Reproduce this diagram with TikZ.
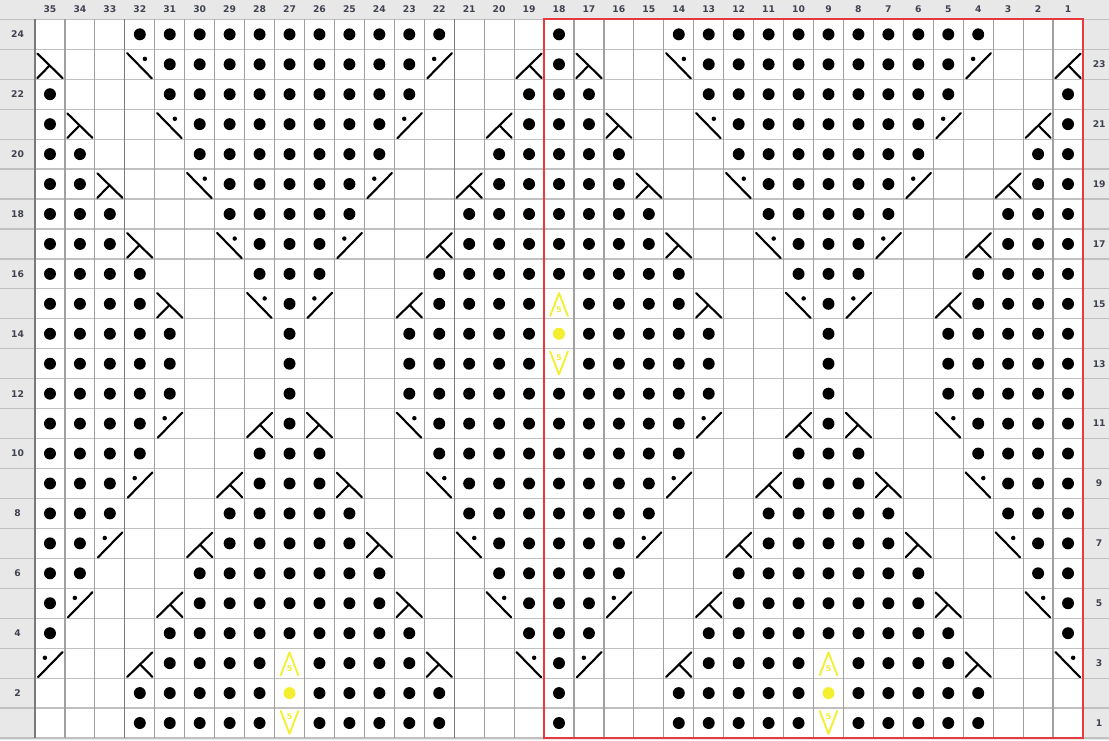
\documentclass[tikz,border=0pt]{standalone}
\usepackage{fontspec}
\setsansfont{DejaVu Sans}

% Stitch symbols: #1 = left edge of the cell, #2 = bottom edge of the cell
\newcommand{\stitche}[2]{}
\newcommand{\stitchp}[2]{\fill[black] (#1+0.5,#2+0.5) circle (0.2);}
\newcommand{\stitchl}[2]{%
    \draw[symLine] (#1+0.08,#2+0.86) -- (#1+0.92,#2+0.04);
    \draw[symLine] (#1+0.48,#2+0.45) -- (#1+0.08,#2+0.04);}
\newcommand{\stitchm}[2]{%
    \draw[symLine] (#1+0.08,#2+0.04) -- (#1+0.92,#2+0.86);
    \draw[symLine] (#1+0.52,#2+0.45) -- (#1+0.92,#2+0.04);}
\newcommand{\stitchr}[2]{%
    \draw[symLine] (#1+0.08,#2+0.87) -- (#1+0.9,#2+0.03);
    \fill[black] (#1+0.67,#2+0.68) circle (0.075);}
\newcommand{\stitchs}[2]{%
    \draw[symLine] (#1+0.1,#2+0.03) -- (#1+0.92,#2+0.87);
    \fill[black] (#1+0.33,#2+0.68) circle (0.075);}
\newcommand{\stitchy}[2]{\fill[stitchYellow] (#1+0.5,#2+0.5) circle (0.2);}
\newcommand{\stitchu}[2]{%
    \draw[yellowLine] (#1+0.2,#2+0.08) -- (#1+0.5,#2+0.86) -- (#1+0.8,#2+0.08);
    \node[fiveLabel] (up#1-#2) at (#1+0.5,#2+0.3) {5};}
\newcommand{\stitchd}[2]{%
    \draw[yellowLine] (#1+0.2,#2+0.92) -- (#1+0.5,#2+0.14) -- (#1+0.8,#2+0.92);
    \node[fiveLabel] (down#1-#2) at (#1+0.5,#2+0.7) {5};}

\begin{document}
\begin{tikzpicture}[x=0.8cm, y=0.8cm,
    symLine/.style={line width=1.6pt, line cap=round},
    yellowLine/.style={stitchYellow, line width=1.4pt, line join=round},
    fiveLabel/.style={text=stitchYellow, inner sep=0pt, font=\sffamily\bfseries\fontsize{6}{6}\selectfont},
    numLabel/.style={labelText, inner sep=0pt, font=\sffamily\bfseries\fontsize{7}{8}\selectfont}]

    % Define chart size
    \def\nCols{35}
    \def\nRows{24}

    \definecolor{labelGrey}{HTML}{E8E8E8}
    \definecolor{labelText}{HTML}{3F4350}
    \definecolor{vLineGrey}{HTML}{A0A0A0}
    \definecolor{hLineGrey}{HTML}{C0C0C0}
    \definecolor{darkLineGrey}{HTML}{7A7A7A}
    \definecolor{repeatRed}{HTML}{E8393F}
    \definecolor{stitchYellow}{HTML}{F3EE2E}

    % Background and margins
    \fill[labelGrey] (-1.169,-0.067) rectangle (35.868,24.647);
    \useasboundingbox (-1.169,-0.067) rectangle (35.868,24.647);
    \fill[white] (0,0) rectangle (\nCols,\nRows);

    % Draw grid
    \foreach \y in {0,...,\nRows}
        \draw[hLineGrey, line width=0.9pt] (-1.169,\y) -- (35.868,\y);
    \foreach \x in {0,...,\nCols}
        \draw[vLineGrey, line width=0.9pt] (\x,0) -- (\x,\nRows);
    \foreach \x in {0,3,14}
        \draw[darkLineGrey, line width=1pt] (\x,0) -- (\x,\nRows);

    % Label columns and rows
    \foreach \c in {1,...,\nCols}
        \node[numLabel] (col\c) at (35.5-\c,24.33) {\c};
    \foreach \r in {2,4,...,24}
        \node[numLabel] (row\r) at (-0.58,\r-0.5) {\r};
    \foreach \r in {1,3,...,23}
        \node[numLabel] (row\r) at (35.54,\r-0.5) {\r};

    % Stitches, row 24 first, column 35 first
    \foreach \line [count=\k] in {
        {e,e,e,p,p,p,p,p,p,p,p,p,p,p,e,e,e,p,e,e,e,p,p,p,p,p,p,p,p,p,p,p,e,e,e},
        {l,e,e,r,p,p,p,p,p,p,p,p,p,s,e,e,m,p,l,e,e,r,p,p,p,p,p,p,p,p,p,s,e,e,m},
        {p,e,e,e,p,p,p,p,p,p,p,p,p,e,e,e,p,p,p,e,e,e,p,p,p,p,p,p,p,p,p,e,e,e,p},
        {p,l,e,e,r,p,p,p,p,p,p,p,s,e,e,m,p,p,p,l,e,e,r,p,p,p,p,p,p,p,s,e,e,m,p},
        {p,p,e,e,e,p,p,p,p,p,p,p,e,e,e,p,p,p,p,p,e,e,e,p,p,p,p,p,p,p,e,e,e,p,p},
        {p,p,l,e,e,r,p,p,p,p,p,s,e,e,m,p,p,p,p,p,l,e,e,r,p,p,p,p,p,s,e,e,m,p,p},
        {p,p,p,e,e,e,p,p,p,p,p,e,e,e,p,p,p,p,p,p,p,e,e,e,p,p,p,p,p,e,e,e,p,p,p},
        {p,p,p,l,e,e,r,p,p,p,s,e,e,m,p,p,p,p,p,p,p,l,e,e,r,p,p,p,s,e,e,m,p,p,p},
        {p,p,p,p,e,e,e,p,p,p,e,e,e,p,p,p,p,p,p,p,p,p,e,e,e,p,p,p,e,e,e,p,p,p,p},
        {p,p,p,p,l,e,e,r,p,s,e,e,m,p,p,p,p,u,p,p,p,p,l,e,e,r,p,s,e,e,m,p,p,p,p},
        {p,p,p,p,p,e,e,e,p,e,e,e,p,p,p,p,p,y,p,p,p,p,p,e,e,e,p,e,e,e,p,p,p,p,p},
        {p,p,p,p,p,e,e,e,p,e,e,e,p,p,p,p,p,d,p,p,p,p,p,e,e,e,p,e,e,e,p,p,p,p,p},
        {p,p,p,p,p,e,e,e,p,e,e,e,p,p,p,p,p,p,p,p,p,p,p,e,e,e,p,e,e,e,p,p,p,p,p},
        {p,p,p,p,s,e,e,m,p,l,e,e,r,p,p,p,p,p,p,p,p,p,s,e,e,m,p,l,e,e,r,p,p,p,p},
        {p,p,p,p,e,e,e,p,p,p,e,e,e,p,p,p,p,p,p,p,p,p,e,e,e,p,p,p,e,e,e,p,p,p,p},
        {p,p,p,s,e,e,m,p,p,p,l,e,e,r,p,p,p,p,p,p,p,s,e,e,m,p,p,p,l,e,e,r,p,p,p},
        {p,p,p,e,e,e,p,p,p,p,p,e,e,e,p,p,p,p,p,p,p,e,e,e,p,p,p,p,p,e,e,e,p,p,p},
        {p,p,s,e,e,m,p,p,p,p,p,l,e,e,r,p,p,p,p,p,s,e,e,m,p,p,p,p,p,l,e,e,r,p,p},
        {p,p,e,e,e,p,p,p,p,p,p,p,e,e,e,p,p,p,p,p,e,e,e,p,p,p,p,p,p,p,e,e,e,p,p},
        {p,s,e,e,m,p,p,p,p,p,p,p,l,e,e,r,p,p,p,s,e,e,m,p,p,p,p,p,p,p,l,e,e,r,p},
        {p,e,e,e,p,p,p,p,p,p,p,p,p,e,e,e,p,p,p,e,e,e,p,p,p,p,p,p,p,p,p,e,e,e,p},
        {s,e,e,m,p,p,p,p,u,p,p,p,p,l,e,e,r,p,s,e,e,m,p,p,p,p,u,p,p,p,p,l,e,e,r},
        {e,e,e,p,p,p,p,p,y,p,p,p,p,p,e,e,e,p,e,e,e,p,p,p,p,p,y,p,p,p,p,p,e,e,e},
        {e,e,e,p,p,p,p,p,d,p,p,p,p,p,e,e,e,p,e,e,e,p,p,p,p,p,d,p,p,p,p,p,e,e,e}} {
        \pgfmathtruncatemacro{\ry}{\nRows-\k}
        \foreach \s [count=\i from 0] in \line {
            \csname stitch\s\endcsname{\i}{\ry}
        }
    }

    % Repeat box, columns 18 to 1
    \draw[repeatRed, line width=1.5pt] (17,0) rectangle (\nCols,\nRows);

\end{tikzpicture}
\end{document}
